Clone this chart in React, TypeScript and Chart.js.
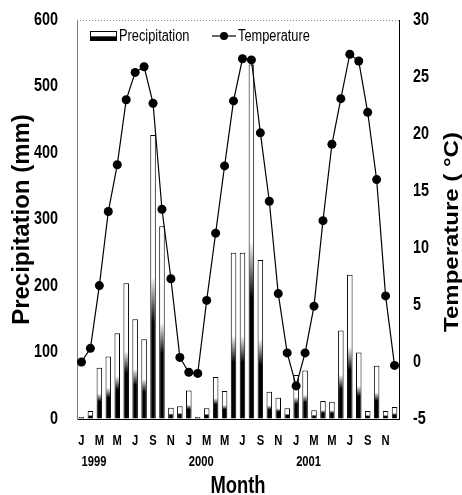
import React, { useEffect, useRef } from 'react';
import { Chart, registerables } from 'chart.js';

Chart.register(...registerables);

const monthLabels = [
  'J', 'F', 'M', 'A', 'M', 'J', 'J', 'A', 'S', 'O', 'N', 'D',
  'J', 'F', 'M', 'A', 'M', 'J', 'J', 'A', 'S', 'O', 'N', 'D',
  'J', 'F', 'M', 'A', 'M', 'J', 'J', 'A', 'S', 'O', 'N', 'D',
];
const yearLabels = ['1999', '2000', '2001'];

const precipitation = [
  3, 12, 77, 94, 129, 204, 150, 120, 427, 290, 17, 19,
  43, 3, 16, 63, 42, 250, 250, 533, 239, 41, 32, 16,
  66, 73, 13, 27, 26, 133, 217, 100, 12, 80, 12, 18,
];
const temperature = [
  0.0, 1.2, 6.7, 13.2, 17.3, 23.0, 25.4, 25.9, 22.7, 13.4, 7.3, 0.4,
  -0.9, -1.0, 5.4, 11.3, 17.2, 22.9, 26.6, 26.5, 20.1, 14.1, 6.0, 0.8,
  -2.1, 0.8, 4.9, 12.4, 19.1, 23.1, 27.0, 26.4, 21.9, 16.0, 5.8, -0.3,
];

const FONT = "'Liberation Sans', Arial, sans-serif";
const CONDENSE = 0.8;

function barFill(chart: any, top: number, base: number) {
  const g = chart.ctx.createLinearGradient(0, base, 0, top);
  g.addColorStop(0, '#000');
  g.addColorStop(0.34, '#000');
  g.addColorStop(0.5, '#fff');
  g.addColorStop(1, '#fff');
  return g;
}

// Horizontal (unrotated) text in the reference is set in a condensed face.
const condensePlugin = {
  id: 'condense',
  beforeInit(chart: any) {
    const ctx = chart.ctx;
    if (ctx.__condensed) return;
    const orig = ctx.fillText;
    ctx.fillText = function (text: string, x: number, y: number, maxWidth?: number) {
      const t = this.getTransform();
      if (Math.abs(t.b) < 1e-6 && Math.abs(t.c) < 1e-6 && text) {
        const w = this.measureText(text).width * CONDENSE;
        const mw = maxWidth !== undefined && maxWidth !== null ? Math.min(maxWidth, w) : w;
        return orig.call(this, text, x, y, mw);
      }
      if (maxWidth === undefined || maxWidth === null) return orig.call(this, text, x, y);
      return orig.call(this, text, x, y, maxWidth);
    };
    ctx.__condensed = true;
  },
};

const decorPlugin = {
  id: 'decor',
  afterDraw(chart: any) {
    const { ctx, chartArea: a } = chart;
    ctx.save();
    // dotted top frame
    ctx.strokeStyle = '#888';
    ctx.lineWidth = 1;
    ctx.setLineDash([1, 2]);
    ctx.beginPath();
    ctx.moveTo(a.left, a.top + 0.5);
    ctx.lineTo(a.right, a.top + 0.5);
    ctx.stroke();
    ctx.setLineDash([]);

    // legend
    const ds = chart.data.datasets;
    const ly = a.top + 16;
    const sx = a.left + 13;
    const sg = ctx.createLinearGradient(0, ly - 5, 0, ly + 5);
    sg.addColorStop(0, '#fff');
    sg.addColorStop(0.45, '#fff');
    sg.addColorStop(0.6, '#000');
    sg.addColorStop(1, '#000');
    ctx.fillStyle = sg;
    ctx.fillRect(sx, ly - 5, 27, 10);
    ctx.strokeStyle = '#000';
    ctx.strokeRect(sx + 0.5, ly - 4.5, 26, 9);
    ctx.fillStyle = '#000';
    ctx.font = `16px ${FONT}`;
    ctx.textBaseline = 'middle';
    ctx.textAlign = 'left';
    ctx.fillText(ds[1].label, sx + 29, ly + 1);

    const lx = a.left + 135;
    ctx.lineWidth = 1.2;
    ctx.beginPath();
    ctx.moveTo(lx, ly);
    ctx.lineTo(lx + 24, ly);
    ctx.stroke();
    ctx.beginPath();
    ctx.arc(lx + 12, ly, 4, 0, Math.PI * 2);
    ctx.fill();
    ctx.fillText(ds[0].label, lx + 26, ly + 1);

    // right axis title (reads bottom to top)
    ctx.translate(452, 232);
    ctx.rotate(-Math.PI / 2);
    ctx.scale(1, 0.85);
    ctx.textAlign = 'center';
    ctx.font = `bold 24px ${FONT}`;
    ctx.fillText('Temperature ( °C)', 0, 0);
    ctx.restore();
  },
};

const hiddenTicks = (len: number) => ({
  display: true,
  drawOnChartArea: false,
  drawTicks: true,
  tickLength: len,
  color: 'rgba(0,0,0,0)',
  tickColor: 'rgba(0,0,0,0)',
});

export default function App() {
  const ref = useRef<HTMLCanvasElement | null>(null);

  useEffect(() => {
    if (!ref.current) return;
    const chart = new Chart(ref.current, {
      type: 'bar',
      data: {
        labels: monthLabels,
        datasets: [
          {
            type: 'line',
            label: 'Temperature',
            data: temperature,
            yAxisID: 'y1',
            xAxisID: 'x',
            borderColor: '#000',
            backgroundColor: '#000',
            borderWidth: 1.2,
            pointRadius: 4.5,
            pointBackgroundColor: '#000',
            pointBorderColor: '#000',
            pointBorderWidth: 0,
            tension: 0,
            order: 0,
          } as any,
          {
            type: 'bar',
            label: 'Precipitation',
            data: precipitation,
            yAxisID: 'y',
            xAxisID: 'x',
            borderColor: '#000',
            borderWidth: 1,
            barPercentage: 0.62,
            categoryPercentage: 1,
            order: 1,
            backgroundColor: (c: any) => {
              if (c.type !== 'data') return '#fff';
              const ys = c.chart.scales.y;
              if (!ys) return '#fff';
              const v = precipitation[c.dataIndex];
              const base = ys.getPixelForValue(0);
              const top = ys.getPixelForValue(v);
              if (!isFinite(base) || !isFinite(top) || Math.abs(base - top) < 1) return '#fff';
              return barFill(c.chart, top, base);
            },
          } as any,
        ],
      },
      options: {
        animation: false,
        responsive: false,
        devicePixelRatio: 1,
        layout: { padding: { top: 20, left: 0, right: 0, bottom: 0 } },
        plugins: {
          legend: { display: false },
          tooltip: { enabled: false },
        },
        scales: {
          x: {
            type: 'category',
            position: 'bottom',
            weight: 0,
            offset: true,
            grid: { display: false, drawTicks: false },
            border: { display: true, color: '#000', width: 1 },
            ticks: {
              autoSkip: false,
              maxRotation: 0,
              minRotation: 0,
              padding: 14,
              color: '#000',
              font: { family: FONT, size: 14, weight: 'bold' },
              callback: (_v: any, i: number) => (i % 2 === 0 ? monthLabels[i] : ''),
            },
            afterFit: (s: any) => { s.height = 30; },
          },
          xYear: {
            type: 'category',
            position: 'bottom',
            weight: 1,
            offset: true,
            grid: { display: false, drawTicks: false },
            border: { display: false },
            ticks: {
              autoSkip: false,
              maxRotation: 0,
              minRotation: 0,
              align: 'start',
              padding: 5,
              color: '#000',
              font: { family: FONT, size: 14, weight: 'bold' },
              callback: (_v: any, i: number) => (i % 12 === 0 ? yearLabels[i / 12] : ''),
            },
            title: {
              display: true,
              text: 'Month',
              color: '#000',
              padding: { top: 0, bottom: -3 },
              font: { family: FONT, size: 23, weight: 'bold', lineHeight: 1 },
            },
            afterFit: (s: any) => { s.height = 46; },
          } as any,
          y: {
            type: 'linear',
            position: 'left',
            min: 0,
            max: 600,
            grid: hiddenTicks(17),
            border: { display: true, color: '#777', width: 1 },
            ticks: {
              stepSize: 100,
              padding: 2,
              color: '#000',
              font: { family: FONT, size: 18, weight: 'bold' },
            },
            title: {
              display: true,
              text: 'Precipitation (mm)',
              color: '#000',
              padding: { top: 10, bottom: 0 },
              font: { family: FONT, size: 24, weight: 'bold', lineHeight: 1 },
            },
            afterFit: (s: any) => { s.width = 77; },
          },
          y1: {
            type: 'linear',
            position: 'right',
            min: -5,
            max: 30,
            grid: hiddenTicks(12),
            border: { display: true, color: '#000', width: 1 },
            ticks: {
              stepSize: 5,
              padding: 2,
              color: '#000',
              font: { family: FONT, size: 18, weight: 'bold' },
            },
            afterFit: (s: any) => { s.width = 63; },
          },
        },
      } as any,
      plugins: [condensePlugin, decorPlugin],
    });
    return () => chart.destroy();
  }, []);

  return (
    <div style={{ position: 'absolute', left: 0, top: 0, width: 462, height: 495, background: '#fff' }}>
      <canvas ref={ref} width={462} height={495} style={{ display: 'block' }} />
    </div>
  );
}
